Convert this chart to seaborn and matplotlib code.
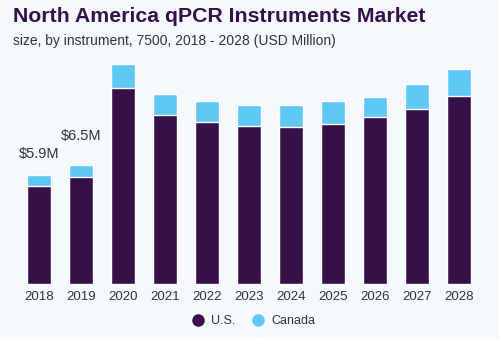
import matplotlib
matplotlib.use("Agg")
import matplotlib.pyplot as plt
import seaborn as sns
import pandas as pd
from matplotlib.lines import Line2D

years = ["2018", "2019", "2020", "2021", "2022", "2023", "2024", "2025", "2026", "2027", "2028"]
us = [5.31, 5.81, 10.61, 9.17, 8.77, 8.57, 8.50, 8.66, 9.02, 9.47, 10.16]
canada = [0.61, 0.65, 1.28, 1.12, 1.12, 1.10, 1.21, 1.22, 1.12, 1.33, 1.45]
labels = {"2018": "$5.9M", "2019": "$6.5M"}
label_gap = {"2018": 0.75, "2019": 1.15}

US_C = "#37104A"
CA_C = "#5BC9F5"
BG = "#F5F9FC"

df = pd.DataFrame({"year": years, "us": us, "canada": canada})
df["total"] = df["us"] + df["canada"]

sns.set_theme(style="white")
plt.rcParams["font.family"] = ["Liberation Sans", "DejaVu Sans"]

fig = plt.figure(figsize=(4.99, 3.39), dpi=100, facecolor=BG)
ax = fig.add_axes([0.0357, 0.1614, 0.9259, 0.7206])
ax.set_facecolor(BG)

sns.barplot(data=df, x="year", y="total", color=CA_C, width=0.58, ax=ax, saturation=1)
sns.barplot(data=df, x="year", y="us", color=US_C, width=0.58, ax=ax, saturation=1)

ax.set_xlim(-0.5, len(years) - 0.5)
ax.set_ylim(0, 13.2)
ax.set_xlabel("")
ax.set_ylabel("")
ax.set_yticks([])
for s in ax.spines.values():
    s.set_visible(False)
ax.tick_params(axis="x", length=0, pad=5, labelsize=9.5, labelcolor="#333333")

for i, y in enumerate(years):
    if y in labels:
        ax.text(i, df["total"][i] + label_gap[y], labels[y], ha="center", va="bottom",
                fontsize=10.5, color="#333333")

fig.text(0.026, 0.935, "North America qPCR Instruments Market", fontsize=15.3,
         fontweight="bold", color="#37104A", ha="left", va="baseline")
fig.text(0.026, 0.868, "size, by instrument, 7500, 2018 - 2028 (USD Million)",
         fontsize=10, color="#333333", ha="left", va="baseline")

handles = [Line2D([0], [0], marker="o", color="none", markerfacecolor=US_C,
                  markeredgecolor=US_C, markersize=8, label="U.S."),
           Line2D([0], [0], marker="o", color="none", markerfacecolor=CA_C,
                  markeredgecolor=CA_C, markersize=8, label="Canada")]
fig.legend(handles=handles, loc="center", bbox_to_anchor=(0.502, 0.053), ncol=2,
           frameon=False, fontsize=9, handletextpad=0.1, columnspacing=0.8,
           labelcolor="#333333")

fig.savefig("out.png", dpi=100, facecolor=BG)
